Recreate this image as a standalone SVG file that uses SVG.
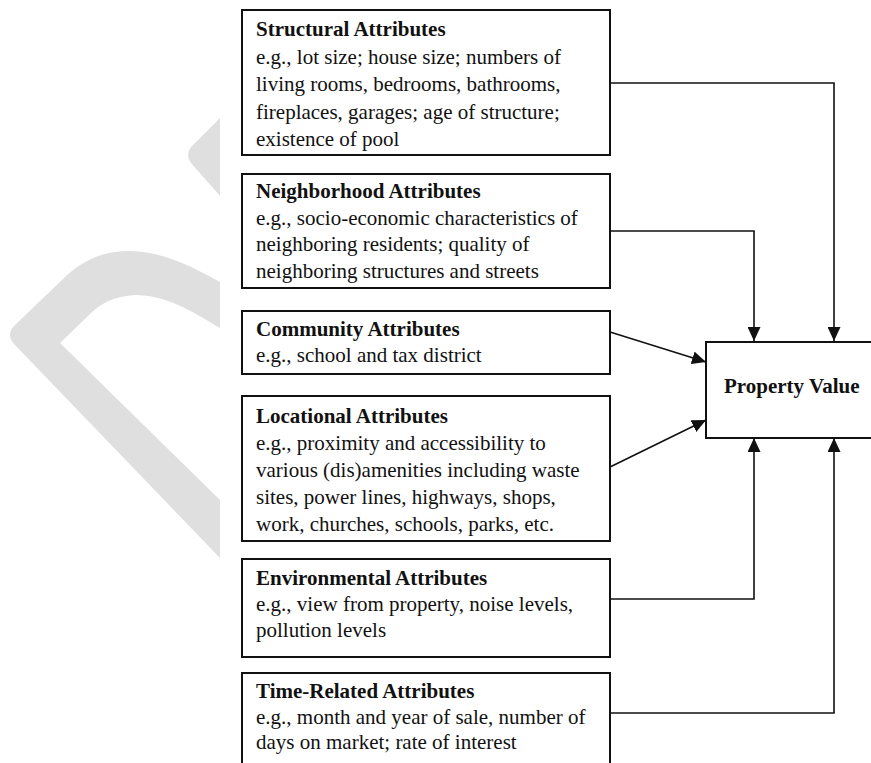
<svg xmlns="http://www.w3.org/2000/svg" width="871" height="763" viewBox="0 0 871 763">
<style>
.box{fill:#fff;stroke:#111;stroke-width:2}
.t{font-family:"Liberation Serif","Times New Roman",serif;font-size:21px;fill:#111}
.b{font-weight:bold}
.conn{fill:none;stroke:#111;stroke-width:1.6}
.wm{fill:#dfdfdf;stroke:none}
</style>
<defs>
<marker id="ah" markerUnits="userSpaceOnUse" viewBox="0 0 14 13" refX="14" refY="6.5" markerWidth="14" markerHeight="13" orient="auto">
<path d="M0,0 L14,6.5 L0,13 Z" fill="#111"/>
</marker>
</defs>
<g id="watermark">
<path class="wm" d="M220,118 L191,147 Q185,155 191,163 L220,196 Z"/>
<path class="wm" d="M220,282 C195,268 165,252 130,251 C100,251 80,262 62,280 L15,325 Q5,335 15,345 L220,558 L220,500 L60,343 L88,316 C100,303 115,296 135,295 C165,295 190,310 220,328 Z"/>
</g>
<g id="connectors">
<path class="conn" d="M610,83 H834 V341" marker-end="url(#ah)"/>
<path class="conn" d="M610,231 H754 V341" marker-end="url(#ah)"/>
<path class="conn" d="M610,332 L706,362" marker-end="url(#ah)"/>
<path class="conn" d="M610,467 L706,420" marker-end="url(#ah)"/>
<path class="conn" d="M610,599 H754 V438" marker-end="url(#ah)"/>
<path class="conn" d="M610,713 H834 V438" marker-end="url(#ah)"/>
</g>
<g id="structural">
<rect class="box" x="242" y="10" width="368" height="145"/>
<text class="t" x="256" y="36"><tspan class="b">Structural Attributes</tspan><tspan x="256" dy="27.6">e.g., lot size; house size; numbers of</tspan><tspan x="256" dy="27.6">living rooms, bedrooms, bathrooms,</tspan><tspan x="256" dy="27.6">fireplaces, garages; age of structure;</tspan><tspan x="256" dy="27.6">existence of pool</tspan></text>
</g>
<g id="neighborhood">
<rect class="box" x="242" y="174" width="368" height="114"/>
<text class="t" x="256" y="198"><tspan class="b">Neighborhood Attributes</tspan><tspan x="256" dy="26.5">e.g., socio-economic characteristics of</tspan><tspan x="256" dy="26.5">neighboring residents; quality of</tspan><tspan x="256" dy="26.5">neighboring structures and streets</tspan></text>
</g>
<g id="community">
<rect class="box" x="242" y="311" width="368" height="63"/>
<text class="t" x="256" y="336"><tspan class="b">Community Attributes</tspan><tspan x="256" dy="26">e.g., school and tax district</tspan></text>
</g>
<g id="locational">
<rect class="box" x="242" y="396" width="368" height="145"/>
<text class="t" x="256" y="423"><tspan class="b">Locational Attributes</tspan><tspan x="256" dy="26.9">e.g., proximity and accessibility to</tspan><tspan x="256" dy="26.9">various (dis)amenities including waste</tspan><tspan x="256" dy="26.9">sites, power lines, highways, shops,</tspan><tspan x="256" dy="26.9">work, churches, schools, parks, etc.</tspan></text>
</g>
<g id="environmental">
<rect class="box" x="242" y="559" width="368" height="98"/>
<text class="t" x="256" y="585"><tspan class="b">Environmental Attributes</tspan><tspan x="256" dy="26">e.g., view from property, noise levels,</tspan><tspan x="256" dy="26">pollution levels</tspan></text>
</g>
<g id="time-related">
<rect class="box" x="242" y="673" width="368" height="110"/>
<text class="t" x="256" y="698"><tspan class="b">Time-Related Attributes</tspan><tspan x="256" dy="25.7">e.g., month and year of sale, number of</tspan><tspan x="256" dy="25.7">days on market; rate of interest</tspan></text>
</g>
<g id="property-value">
<rect class="box" x="706" y="342" width="200" height="96"/>
<text class="t b" x="724" y="393">Property Value</text>
</g>
</svg>
